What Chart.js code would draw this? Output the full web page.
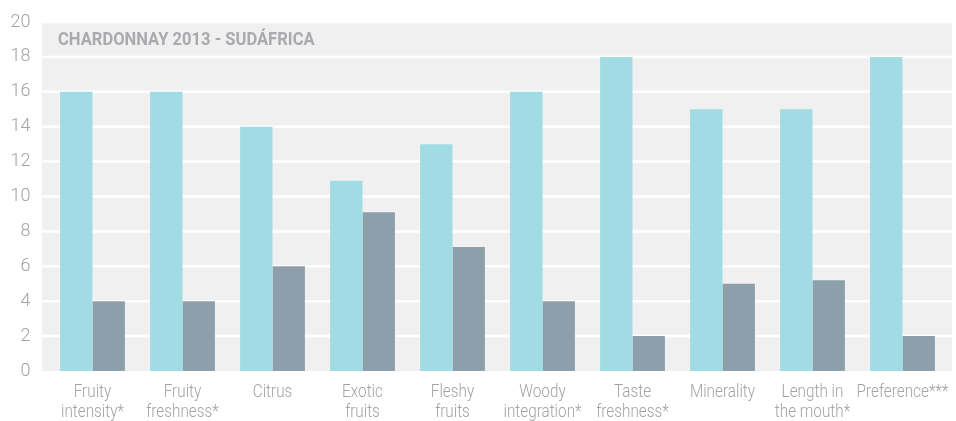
<!DOCTYPE html>
<html>
<head>
<meta charset="utf-8">
<script src="https://cdn.jsdelivr.net/npm/chart.js@4"></script>
<style>
  html, body { margin: 0; padding: 0; background: #fff; }
  #wrap { width: 956px; height: 421px; }
</style>
</head>
<body>
<div id="wrap"><canvas id="wineChart" width="956" height="421"></canvas></div>
<script>
const chartTitle = "CHARDONNAY 2013 - SUDÁFRICA";
const categories = [
  ["Fruity", "intensity*"],
  ["Fruity", "freshness*"],
  ["Citrus"],
  ["Exotic", "fruits"],
  ["Fleshy", "fruits"],
  ["Woody", "integration*"],
  ["Taste", "freshness*"],
  ["Minerality"],
  ["Length in", "the mouth*"],
  ["Preference***"]
];
const seriesA = [16, 16, 14, 10.9, 13, 16, 18, 15, 15, 18];
const seriesB = [4, 4, 6, 9.1, 7.1, 4, 2, 5, 5.2, 2];

// texto estrecho: la fuente condensada no está, se comprime en horizontal
function narrowText(ctx, text, x, y, squeeze) {
  ctx.save();
  ctx.translate(x, y);
  ctx.scale(squeeze, 1);
  ctx.fillText(text, 0, 0);
  ctx.restore();
}

// el fondo gris sobresale un poco del área de categorías
const bgLeft = 5.5, bgRight = 4.5;

const areaPlugin = {
  id: "areaPlugin",
  beforeDatasetsDraw(chart) {
    const { ctx, chartArea: a } = chart;
    const ys = chart.scales.y;
    ctx.save();
    ctx.fillStyle = "#f0f0f0";
    ctx.fillRect(a.left - bgLeft, a.top, a.right - a.left + bgLeft + bgRight, a.bottom - a.top);
    ctx.strokeStyle = "#ffffff";
    ctx.lineWidth = 2.5;
    ys.ticks.forEach(t => {
      if (t.value === 0) return;
      const y = ys.getPixelForValue(t.value);
      ctx.beginPath();
      ctx.moveTo(a.left - bgLeft, y);
      ctx.lineTo(a.right + bgRight, y);
      ctx.stroke();
    });
    ctx.restore();
  },
  afterDraw(chart) {
    const { ctx, chartArea: a } = chart;
    const xs = chart.scales.x;
    ctx.save();
    // título
    ctx.fillStyle = "#a9aaad";
    ctx.font = "bold 18px Roboto, sans-serif";
    ctx.textBaseline = "middle";
    ctx.textAlign = "left";
    narrowText(ctx, chartTitle, a.left - bgLeft + 16, a.top + 18, 0.92);
    // etiquetas del eje x
    ctx.fillStyle = "#a3a3a3";
    ctx.font = "300 18px Roboto, sans-serif";
    ctx.textAlign = "center";
    categories.forEach((lines, i) => {
      const x = xs.getPixelForTick(i);
      lines.forEach((t, j) => narrowText(ctx, t, x, a.bottom + 21 + j * 20, 0.85));
    });
    ctx.restore();
  }
};

new Chart(document.getElementById("wineChart"), {
  type: "bar",
  data: {
    labels: categories,
    datasets: [
      { label: "A", data: seriesA, backgroundColor: "#a1dbe3" },
      { label: "B", data: seriesB, backgroundColor: "#8d9fab" }
    ]
  },
  options: {
    responsive: false,
    animation: false,
    layout: { padding: { top: 22, right: 8.5, left: 0, bottom: 0 } },
    datasets: { bar: { categoryPercentage: 0.72, barPercentage: 1.0 } },
    plugins: { legend: { display: false }, tooltip: { enabled: false } },
    scales: {
      x: {
        grid: { display: false },
        border: { display: false },
        ticks: { display: false },
        afterFit(scale) { scale.height = 50; }
      },
      y: {
        min: 0,
        max: 20,
        border: { display: false },
        grid: { display: false, drawTicks: false },
        afterFit(scale) {
          scale.width = 47.5;
          scale.paddingTop = 0;
          scale.paddingBottom = 0;
        },
        ticks: {
          stepSize: 2,
          color: "#a3a3a3",
          font: { family: "Roboto", weight: "300", size: 18 },
          padding: 17
        }
      }
    }
  },
  plugins: [areaPlugin]
});
</script>
</body>
</html>
